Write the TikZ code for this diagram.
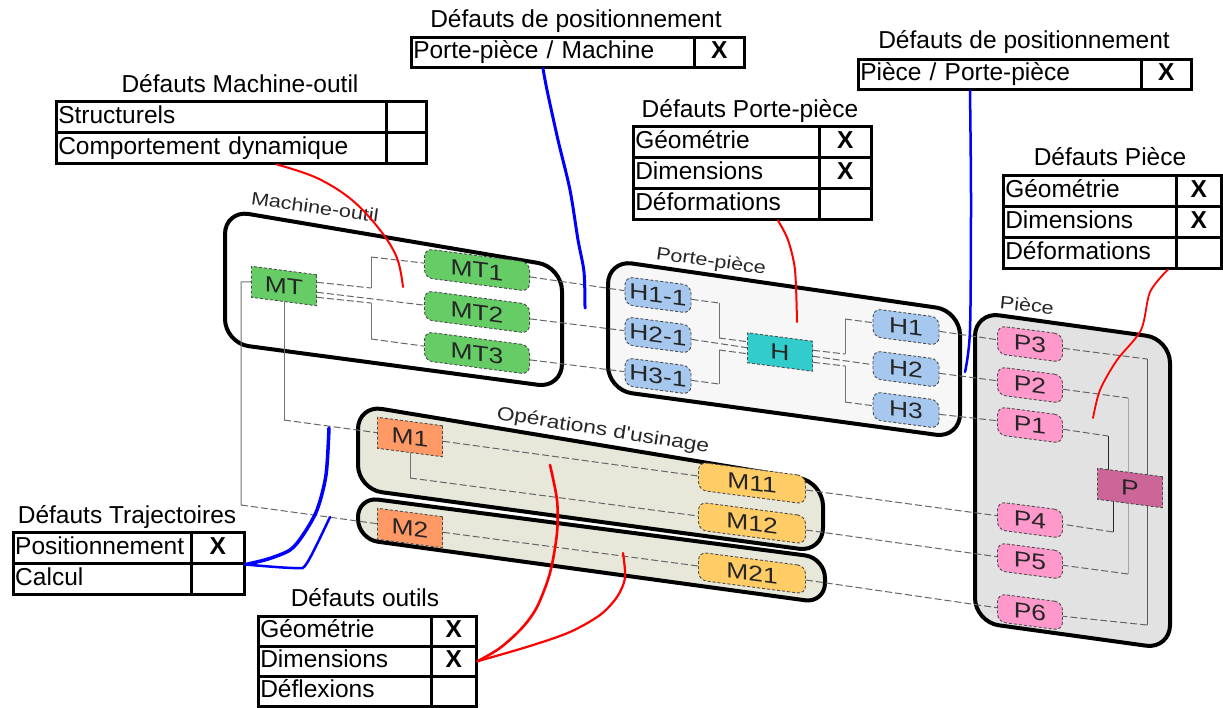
\documentclass[tikz,border=0pt]{standalone}
\usepackage{fontspec}
\setmainfont{Liberation Sans}
\newfontfamily\boxfont[FakeStretch=1.2]{Liberation Sans}
\usetikzlibrary{calc,backgrounds}

\definecolor{mtgreen}{RGB}{102,204,102}
\definecolor{hblue}{RGB}{166,200,238}
\definecolor{hteal}{RGB}{51,204,204}
\definecolor{ppink}{RGB}{255,153,204}
\definecolor{pmag}{RGB}{204,102,153}
\definecolor{morange}{RGB}{255,153,102}
\definecolor{myellow}{RGB}{255,204,102}
\definecolor{opsfill}{RGB}{231,231,218}
\definecolor{ppfill}{RGB}{247,247,247}
\definecolor{pcfill}{RGB}{226,226,226}

\begin{document}
\begin{tikzpicture}[x=1pt, y=-1pt,
    tab/.style={draw, line width=2.5pt, anchor=north west, minimum height=31pt,
      inner xsep=2pt, inner ysep=0pt, text height=18pt, text depth=5pt,
      align=left, font=\fontsize{24.5}{28}\selectfont},
    tabx/.style={tab, align=center, font=\fontsize{24.5}{28}\selectfont\bfseries},
    tabtitle/.style={inner sep=0pt, text height=18pt, text depth=5pt,
      font=\fontsize{24.5}{28}\selectfont},
    blk/.style={draw=black!70, dash pattern=on 3pt off 2pt, line width=0.9pt,
      yslant=-0.13, inner sep=0pt, text=black!85,
      font=\boxfont\fontsize{22}{24}\selectfont},
    rblk/.style={blk, rounded corners=8pt},
    mtnode/.style={blk, fill=mtgreen, minimum width=65pt, minimum height=31pt},
    mtsub/.style={rblk, fill=mtgreen, minimum width=105pt, minimum height=29pt},
    hsub/.style={rblk, fill=hblue, minimum width=66pt, minimum height=28pt},
    hnode/.style={blk, fill=hteal, minimum width=65pt, minimum height=30pt},
    psub/.style={rblk, fill=ppink, minimum width=65pt, minimum height=28pt},
    pnode/.style={blk, fill=pmag, minimum width=65pt, minimum height=31pt},
    mnode/.style={blk, fill=morange, minimum width=65pt, minimum height=31pt},
    msub/.style={rblk, fill=myellow, minimum width=107pt, minimum height=28pt},
    frame/.style={line width=4pt, rounded corners=24pt},
    grp/.style={inner sep=0pt, text=black!85, font=\boxfont\fontsize{18}{20}\selectfont},
    link/.style={draw=black!60, line width=1pt, dash pattern=on 7pt off 3pt},
    stem/.style={draw=black!55, line width=1pt},
    redln/.style={red, line width=2pt, line cap=round},
    blueln/.style={blue, line width=3pt, line cap=round}
  ]
  \useasboundingbox (0,0) rectangle (1223,707);

  % cadres des sous-ensembles
  \begin{scope}[on background layer]
    \draw[frame, fill=white] (225,210) -- (562,267) -- (562,388) -- (225,343) -- cycle;
    \draw[frame, fill=ppfill] (608,260) -- (960,311) -- (960,438) -- (608,390) -- cycle;
    \draw[frame, fill=pcfill] (975,312) -- (1170,339) -- (1170,649) -- (975,622) -- cycle;
    \draw[frame, fill=opsfill] (358,405) -- (823,482) -- (823,552) -- (358,489) -- cycle;
    \draw[frame, fill=opsfill, rounded corners=20pt] (358,497) -- (825,558) -- (825,603) -- (358,539) -- cycle;
  \end{scope}

  % titres des sous-ensembles
  \node[grp, rotate=-8] (lmo) at (315,207) {Machine-outil};
  \node[grp, rotate=-8] (lpp) at (711,262) {Porte-pièce};
  \node[grp, rotate=-6] (lpc) at (1027,305) {Pièce};
  \node[grp, rotate=-9, font=\boxfont\fontsize{19}{21}\selectfont] (lop) at (603,431) {Opérations d'usinage};

  % Machine-outil
  \node[mtnode] (MT) at (284,286) {MT};
  \node[mtsub] (MT1) at (477,270) {MT1};
  \node[mtsub] (MT2) at (477,312) {MT2};
  \node[mtsub] (MT3) at (477,353) {MT3};

  % Porte-pièce
  \node[hsub] (H11) at (658,295) {H1-1};
  \node[hsub] (H21) at (658,335) {H2-1};
  \node[hsub] (H31) at (658,376) {H3-1};
  \node[hnode] (H) at (780,352) {H};
  \node[hsub] (H1) at (906,327) {H1};
  \node[hsub] (H2) at (906,369) {H2};
  \node[hsub] (H3) at (906,410) {H3};

  % Pièce
  \node[psub] (P3) at (1030,344) {P3};
  \node[psub] (P2) at (1030,385) {P2};
  \node[psub] (P1) at (1030,425) {P1};
  \node[psub] (P4) at (1030,520) {P4};
  \node[psub] (P5) at (1030,561) {P5};
  \node[psub] (P6) at (1030,612) {P6};
  \node[pnode] (P) at (1130,488) {P};

  % Opérations d'usinage
  \node[mnode] (M1) at (410,437) {M1};
  \node[mnode] (M2) at (410,528) {M2};
  \node[msub] (M11) at (752,483) {M11};
  \node[msub] (M12) at (752,523) {M12};
  \node[msub] (M21) at (752,573) {M21};

  % liaisons (sous les blocs)
  \begin{scope}[on background layer]
    \draw[link] ($(MT.east)+(0,-8)$) -- (371,288);
    \draw[stem] (371,288) -- (371,257);
    \draw[link] (371,257) -- (MT1.west);
    \draw[link] ($(MT.east)+(0,2)$) -- (MT2.west);
    \draw[link] ($(MT.east)+(0,7)$) -- (371,303);
    \draw[stem] (371,303) -- (371,339);
    \draw[link] (371,339) -- (MT3.west);

    \draw[link] (MT1.east) -- (H11.west);
    \draw[link] (MT2.east) -- (H21.west);
    \draw[link] (MT3.east) -- (H31.west);

    \draw[link] (H11.east) -- (719,303);
    \draw[stem] (719,303) -- (719,338);
    \draw[link] (719,338) -- ($(H.west)+(0,-6)$);
    \draw[link] (H21.east) -- (H.west);
    \draw[link] (H31.east) -- (719,384);
    \draw[stem] (719,384) -- (719,350);
    \draw[link] (719,350) -- ($(H.west)+(0,6)$);

    \draw[link] ($(H.east)+(0,-6)$) -- (845,354);
    \draw[stem] (845,354) -- (845,319);
    \draw[link] (845,319) -- (H1.west);
    \draw[link] (H.east) -- (H2.west);
    \draw[link] ($(H.east)+(0,6)$) -- (845,366);
    \draw[stem] (845,366) -- (845,402);
    \draw[link] (845,402) -- (H3.west);

    \draw[link] (H1.east) -- (P3.west);
    \draw[link] (H2.east) -- (P2.west);
    \draw[link] (H3.east) -- (P1.west);

    \draw[link] (P3.east) -- (1147,359);
    \draw[stem, draw=black!65] (1147,359) -- (1147,625);
    \draw[link] (1147,625) -- (P6.east);
    \draw[link] (P2.east) -- (1128,398);
    \draw[stem, draw=black!35] (1128,398) -- (1128,574);
    \draw[link] (1128,574) -- (P5.east);
    \draw[link] (P1.east) -- (1108,436);
    \draw[stem, draw=black!85] (1108,436) |- (P.center);
    \draw[stem, draw=black!85] (P.center) -| (1113,532);
    \draw[link] (1113,532) -- (P4.east);

    \draw[stem] (MT.west) -- (241,282) -- (241,505);
    \draw[link] (241,505) -- (M2.west);
    \draw[stem] (MT.south) -- (284,420);
    \draw[link] (284,420) -- (M1.west);

    \draw[link] (M1.east) -- (M11.west);
    \draw[stem] (M1.south) -- (410,478);
    \draw[link] (410,478) -- (M12.west);
    \draw[link] (M2.east) -- (M21.west);

    \draw[link] (M11.east) -- (P4.west);
    \draw[link] (M12.east) -- (P5.west);
    \draw[link] (M21.east) -- (P6.west);
  \end{scope}

  % Défauts Machine-outil
  \node[tabtitle] (motit) at (240,86) {Défauts Machine-outil};
  \node[tab, text width=326pt] (mo1) at (55,100) {Structurels};
  \node[tabx, minimum width=40pt] (mo1x) at (385,100) {};
  \node[tab, text width=326pt] (mo2) at (55,131) {Comportement dynamique};
  \node[tabx, minimum width=40pt] (mo2x) at (385,131) {};

  % Défauts de positionnement : porte-pièce / machine
  \node[tabtitle] (pmtit) at (576,21) {Défauts de positionnement};
  \node[tab, text width=279pt, minimum height=30pt] (pm1) at (410,36) {Porte-pièce / Machine};
  \node[tabx, minimum width=50pt, minimum height=30pt] (pm1x) at (693,36) {X};

  % Défauts Porte-pièce
  \node[tabtitle] (pptit) at (750,111) {Défauts Porte-pièce};
  \node[tab, text width=182pt] (pp1) at (632,125) {Géométrie};
  \node[tabx, minimum width=52pt] (pp1x) at (818,125) {X};
  \node[tab, text width=182pt] (pp2) at (632,156) {Dimensions};
  \node[tabx, minimum width=52pt] (pp2x) at (818,156) {X};
  \node[tab, text width=182pt] (pp3) at (632,187) {Déformations};
  \node[tabx, minimum width=52pt] (pp3x) at (818,187) {};

  % Défauts de positionnement : pièce / porte-pièce
  \node[tabtitle] (pqtit) at (1024,42) {Défauts de positionnement};
  \node[tab, text width=279pt, minimum height=30pt] (pq1) at (857,58) {Pièce / Porte-pièce};
  \node[tabx, minimum width=50pt, minimum height=30pt] (pq1x) at (1140,58) {X};

  % Défauts Pièce
  \node[tabtitle] (pctit) at (1110,159) {Défauts Pièce};
  \node[tab, text width=169pt] (pc1) at (1002,174) {Géométrie};
  \node[tabx, minimum width=45pt] (pc1x) at (1175,174) {X};
  \node[tab, text width=169pt] (pc2) at (1002,205) {Dimensions};
  \node[tabx, minimum width=45pt] (pc2x) at (1175,205) {X};
  \node[tab, text width=169pt] (pc3) at (1002,236) {Déformations};
  \node[tabx, minimum width=45pt] (pc3x) at (1175,236) {};

  % Défauts Trajectoires
  \node[tabtitle] (trtit) at (127,517) {Défauts Trajectoires};
  \node[tab, text width=174pt] (tr1) at (12,531) {Positionnement};
  \node[tabx, minimum width=53pt] (tr1x) at (190,531) {X};
  \node[tab, text width=174pt] (tr2) at (12,562) {Calcul};
  \node[tabx, minimum width=53pt] (tr2x) at (190,562) {};

  % Défauts outils
  \node[tabtitle] (outit) at (365,600) {Défauts outils};
  \node[tab, text width=169pt, minimum height=30pt] (ou1) at (257,615) {Géométrie};
  \node[tabx, minimum width=45pt, minimum height=30pt] (ou1x) at (430,615) {X};
  \node[tab, text width=169pt, minimum height=30pt] (ou2) at (257,645) {Dimensions};
  \node[tabx, minimum width=45pt, minimum height=30pt] (ou2x) at (430,645) {X};
  \node[tab, text width=169pt, minimum height=30pt] (ou3) at (257,675) {Déflexions};
  \node[tabx, minimum width=45pt, minimum height=30pt] (ou3x) at (430,675) {};

  % renvois rouges
  \coordinate (r1s) at ($(mo2.south west)+(222,0)$);
  \draw[redln] plot[smooth, tension=0.6] coordinates {(r1s) (317,178) (352,200) (380,230) (397,258) (403,287)};
  \coordinate (r2s) at ($(pp3.south west)+(146,0)$);
  \draw[redln] plot[smooth] coordinates {(r2s) (788,240) (795,270) (797,322)};
  \coordinate (r3s) at ($(pc3.south west)+(166,0)$);
  \draw[redln, line width=1.8pt] plot[smooth] coordinates {(r3s) (1150,292) (1141,330) (1117,360) (1100,390) (1093,418)};
  \draw[redln, line width=2.6pt] plot[smooth] coordinates {(ou2x.east) (500,648) (522,628) (537,607) (550,573) (557,533) (557,500) (550,465)};
  \draw[redln, line width=2.2pt] plot[smooth] coordinates {(ou2x.east) (530,646) (570,632) (600,615) (617,597) (625,578) (623,553)};

  % renvois bleus
  \coordinate (b1s) at ($(pm1.south west)+(133,0)$);
  \draw[blueln] plot[smooth] coordinates {(b1s) (547,90) (558,140) (570,190) (578,240) (584,272) (585,308)};
  \coordinate (b2s) at ($(pq1.south west)+(113,0)$);
  \draw[blueln, line width=2.5pt] plot[smooth] coordinates {(b2s) (971,200) (970,330) (965,372)};
  \draw[blueln, line width=3.5pt] plot[smooth] coordinates {(tr1x.south east) (268,559) (290,550) (303,535) (317,510) (326,475) (329,428)};
  \draw[blueln, line width=2.5pt] plot[smooth] coordinates {(tr1x.south east) (295,568) (307,563) (330,517)};
\end{tikzpicture}
\end{document}
